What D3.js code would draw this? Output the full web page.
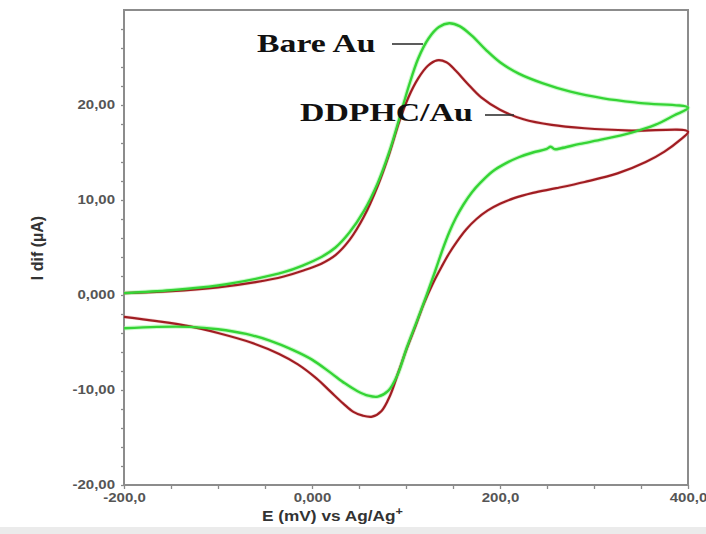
<!DOCTYPE html>
<html>
<head>
<meta charset="utf-8">
<script src="https://cdn.jsdelivr.net/npm/d3@7"></script>
<style>
  html, body { margin: 0; padding: 0; background: #fff; }
  svg { display: block; }
</style>
</head>
<body>
<svg id="chart" width="706" height="534"></svg>
<script>
// ---- data ----
// Bare Au: forward scan (-200 -> 400 mV) then reverse scan (400 -> -200 mV)
const bareAuE = [-200, -150, -100, -60, -30, -10, 10, 25, 40, 55, 70, 82, 93, 103, 113, 124, 135, 146, 157, 170, 185, 200, 220, 245, 275, 310, 350, 400,
                 385, 365, 340, 310, 285, 265, 258, 254, 249, 235, 220, 205, 192, 180, 170, 161, 153, 146, 139, 131, 122, 111, 101, 91, 81, 70, 60, 48, 35, 20, 0, -20, -45, -70, -100, -130, -165, -200];
const bareAuI = [0.2, 0.5, 1.0, 1.7, 2.4, 3.1, 4.0, 5.0, 6.6, 8.8, 11.8, 15.0, 18.6, 22.0, 24.9, 27.0, 28.2, 28.6, 28.3, 27.3, 25.8, 24.5, 23.3, 22.3, 21.4, 20.7, 20.2, 19.7,
                 18.9, 17.9, 17.1, 16.4, 15.9, 15.45, 15.35, 15.6, 15.35, 15.0, 14.5, 13.8, 13.0, 11.9, 10.8, 9.5, 8.1, 6.6, 4.8, 2.5, 0.0, -2.9, -5.5, -8.4, -10.1, -10.7, -10.6, -10.1, -9.3, -8.2, -6.8, -5.8, -4.8, -4.1, -3.6, -3.35, -3.35, -3.5];

// DDPHC/Au: forward scan then reverse scan
const ddphcE = [-200, -150, -100, -60, -30, -10, 10, 25, 40, 55, 70, 82, 93, 103, 113, 123, 133, 143, 153, 165, 180, 200, 225, 255, 290, 340, 400,
                390, 375, 355, 325, 290, 260, 235, 215, 200, 187, 175, 164, 154, 146, 138, 129, 119, 110, 101, 92, 83, 74, 64, 54, 44, 33, 20, 5, -15, -35, -65, -100, -130, -165, -200];
const ddphcI = [0.2, 0.4, 0.8, 1.35, 1.95, 2.55, 3.3, 4.2, 5.8, 8.2, 11.5, 14.8, 18.3, 20.9, 22.8, 24.1, 24.7, 24.5, 23.6, 22.3, 20.8, 19.5, 18.5, 17.9, 17.55, 17.3, 17.2,
                16.2, 15.1, 14.0, 12.8, 11.9, 11.25, 10.75, 10.2, 9.6, 8.9, 8.0, 6.9, 5.6, 4.4, 3.0, 1.3, -0.9, -3.3, -5.6, -8.1, -10.6, -12.2, -12.8, -12.7, -12.3, -11.4, -10.2, -8.8, -7.3, -6.2, -5.0, -4.0, -3.3, -2.75, -2.3];

const xTickValues = [-200, 0, 200, 400];
const xTickLabels = ["-200,0", "0,000", "200,0", "400,0"];
const yTickValues = [-20, -10, 0, 10, 20];
const yTickLabels = ["-20,00", "-10,00", "0,000", "10,00", "20,00"];

const seriesNames = ["Bare Au", "DDPHC/Au"];
const xTitle = "E (mV) vs Ag/Ag";
const yTitle = "I dif (\u00B5A)";

// ---- layout ----
const svg = d3.select("#chart");
const SX = 1.25; // horizontal stretch of the reference tick text

const x = d3.scaleLinear().domain([-200, 400]).range([124, 688]);
const y = d3.scaleLinear().domain([-20, 30]).range([485, 10]);

// bottom grey band
svg.append("rect").attr("x", 0).attr("y", 527).attr("width", 706).attr("height", 7).attr("fill", "#ebebeb");

// axes
const xAxis = d3.axisBottom(x)
  .tickValues(d3.range(-200, 401, 50))
  .tickSize(4).tickPadding(4)
  .tickFormat(v => { const i = xTickValues.indexOf(v); return i >= 0 ? xTickLabels[i] : ""; });
const yAxis = d3.axisLeft(y)
  .tickValues(d3.range(-20, 29, 2))
  .tickSize(3).tickPadding(6)
  .tickFormat(v => { const i = yTickValues.indexOf(v); return i >= 0 ? yTickLabels[i] : ""; });

const gx = svg.append("g").attr("transform", "translate(0,485)").call(xAxis);
const gy = svg.append("g").attr("transform", "translate(124,0)").call(yAxis);

[gx, gy].forEach(g => {
  g.select(".domain").remove();
  g.selectAll(".tick line").attr("stroke", "#8a8a8a").attr("stroke-width", 1.3);
  g.selectAll(".tick text")
    .attr("fill", "#555")
    .style("font-family", "'Liberation Sans', Arial, sans-serif")
    .style("font-size", "12px")
    .style("font-weight", "bold");
});
gx.selectAll(".tick text").attr("transform", `scale(${SX},1)`).attr("y", 8);
gy.selectAll(".tick text").attr("x", -9 / SX).attr("transform", `scale(${SX},1)`);

// frame
svg.append("rect")
  .attr("x", x(-200)).attr("y", y(30))
  .attr("width", x(400) - x(-200)).attr("height", y(-20) - y(30))
  .attr("fill", "none").attr("stroke", "#8c8c8c").attr("stroke-width", 2);

// curves
const line = d3.line().x(d => x(d[0])).y(d => y(d[1])).curve(d3.curveCatmullRom.alpha(0.5));
const bare = bareAuE.map((e, i) => [e, bareAuI[i]]);
const ddphc = ddphcE.map((e, i) => [e, ddphcI[i]]);

svg.append("path").attr("d", line(bare)).attr("fill", "none").attr("stroke", "#8ff58f").attr("stroke-width", 4.5).attr("stroke-opacity", 0.45);
svg.append("path").attr("d", line(ddphc)).attr("fill", "none").attr("stroke", "#e08080").attr("stroke-width", 3.5).attr("stroke-opacity", 0.3);
svg.append("path").attr("d", line(ddphc)).attr("fill", "none").attr("stroke", "#a01d22").attr("stroke-width", 2.2);
svg.append("path").attr("d", line(bare)).attr("fill", "none").attr("stroke", "#35d435").attr("stroke-width", 2.4);

// annotations
const serif = "'Liberation Serif', 'Times New Roman', serif";
svg.append("text").attr("transform", `translate(257,52) scale(1.3,1)`)
  .style("font-family", serif).style("font-size", "26px").style("font-weight", "bold").attr("fill", "#111")
  .text(seriesNames[0]);
svg.append("line").attr("x1", 392).attr("x2", 423).attr("y1", 44).attr("y2", 44).attr("stroke", "#333").attr("stroke-width", 1.6);

svg.append("text").attr("transform", `translate(300,121) scale(1.3,1)`)
  .style("font-family", serif).style("font-size", "26px").style("font-weight", "bold").attr("fill", "#111")
  .text(seriesNames[1]);
svg.append("line").attr("x1", 485).attr("x2", 514).attr("y1", 115).attr("y2", 115).attr("stroke", "#333").attr("stroke-width", 1.6);

// axis titles
const xt = svg.append("text").attr("transform", `translate(262,521) scale(1.15,1)`)
  .style("font-family", "'Liberation Sans', Arial, sans-serif").style("font-size", "15px").style("font-weight", "bold").attr("fill", "#333");
xt.append("tspan").text(xTitle);
xt.append("tspan").attr("dy", -6).style("font-size", "11px").text("+");

svg.append("text").attr("transform", `translate(37,248) rotate(-90)`)
  .attr("text-anchor", "middle").attr("dominant-baseline", "central")
  .style("font-family", "'Liberation Sans', Arial, sans-serif").style("font-size", "16px").style("font-weight", "bold").attr("fill", "#333")
  .text(yTitle);
</script>
</body>
</html>
